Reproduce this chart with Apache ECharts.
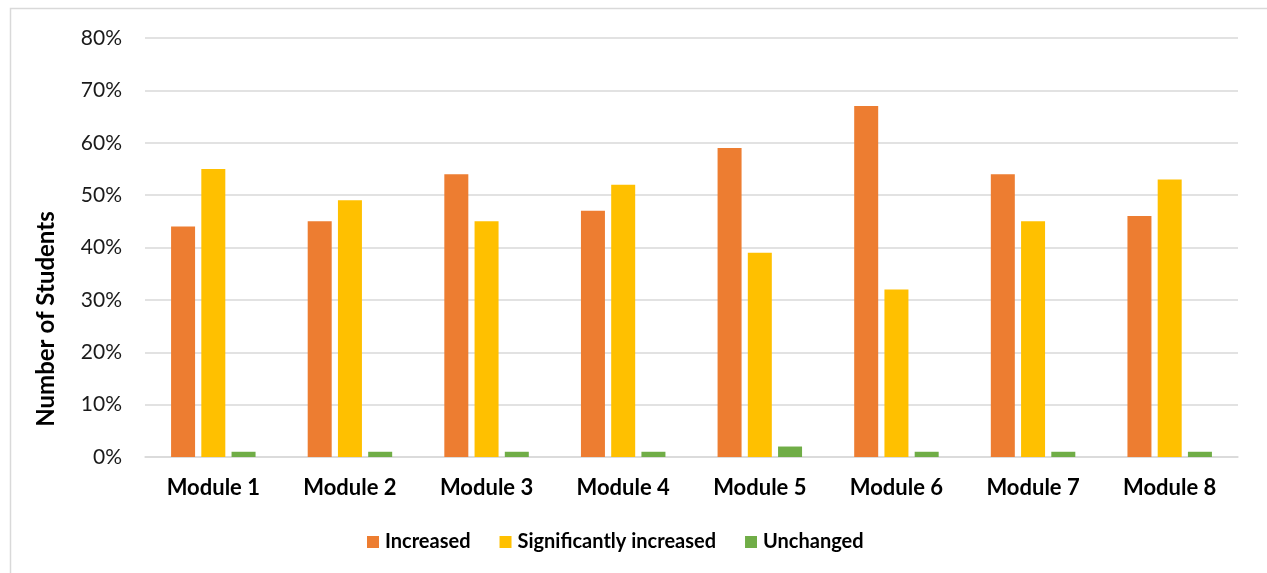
<!DOCTYPE html>
<html>
<head>
<meta charset="utf-8">
<script src="https://cdn.jsdelivr.net/npm/echarts@6/dist/echarts.min.js"></script>
<style>
  html, body { margin: 0; padding: 0; background: #fff; }
  #chart { width: 1267px; height: 573px; }
</style>
</head>
<body>
<div id="chart"></div>
<script>
// Share of students per module, by change category (percent)
const modules = ['Module 1', 'Module 2', 'Module 3', 'Module 4', 'Module 5', 'Module 6', 'Module 7', 'Module 8'];
const increased = [44, 45, 54, 47, 59, 67, 54, 46];
const significantlyIncreased = [55, 49, 45, 52, 39, 32, 45, 53];
const unchanged = [1, 1, 1, 1, 2, 1, 1, 1];
const seriesNames = ['Increased', 'Significantly increased', 'Unchanged'];
const yTitle = 'Number of Students';

const FONT = 'Lato, "Open Sans", sans-serif';
const colors = ['#ED7D31', '#FFC000', '#70AD47'];

const chart = echarts.init(document.getElementById('chart'), null, { renderer: 'canvas' });

function barSeries(name, data, color) {
  return {
    name: name,
    type: 'bar',
    data: data,
    barWidth: 24,
    barGap: '26%',
    itemStyle: { color: color },
    emphasis: { disabled: true }
  };
}

chart.setOption({
  animation: false,
  backgroundColor: '#ffffff',
  color: colors,
  grid: { left: 145, right: 29, top: 38, bottom: 116, containLabel: false },
  xAxis: {
    type: 'category',
    data: modules,
    axisLine: { show: true, lineStyle: { color: '#D9D9D9', width: 1.5 } },
    axisTick: { show: false },
    axisLabel: {
      color: '#000000',
      fontFamily: FONT,
      fontWeight: 'bold',
      fontSize: 22,
      margin: 20
    }
  },
  yAxis: {
    type: 'value',
    min: 0,
    max: 80,
    interval: 10,
    axisLine: { show: false },
    axisTick: { show: false },
    splitLine: { lineStyle: { color: '#D9D9D9', width: 1.5 } },
    axisLabel: {
      color: '#1a1a1a',
      fontFamily: FONT,
      fontSize: 21,
      margin: 23,
      formatter: '{value}%'
    }
  },
  legend: {
    data: seriesNames,
    bottom: 16,
    left: 362,
    itemWidth: 12,
    itemHeight: 12,
    itemGap: 29,
    icon: 'rect',
    textStyle: {
      color: '#000000',
      fontFamily: FONT,
      fontWeight: 'bold',
      fontSize: 20,
      padding: [0, 0, 0, 1]
    }
  },
  graphic: [
    {
      type: 'rect',
      silent: true,
      shape: { x: 10.5, y: 8.5, width: 1300, height: 700 },
      style: { fill: 'none', stroke: '#D9D9D9', lineWidth: 1.5 },
      z: -1
    },
    {
      type: 'text',
      silent: true,
      x: 46,
      y: 319,
      rotation: Math.PI / 2,
      style: {
        text: yTitle,
        fill: '#000000',
        font: 'bold 24px ' + FONT,
        textAlign: 'center',
        textVerticalAlign: 'middle'
      }
    }
  ],
  series: [
    barSeries(seriesNames[0], increased, colors[0]),
    barSeries(seriesNames[1], significantlyIncreased, colors[1]),
    barSeries(seriesNames[2], unchanged, colors[2])
  ]
});
</script>
</body>
</html>
